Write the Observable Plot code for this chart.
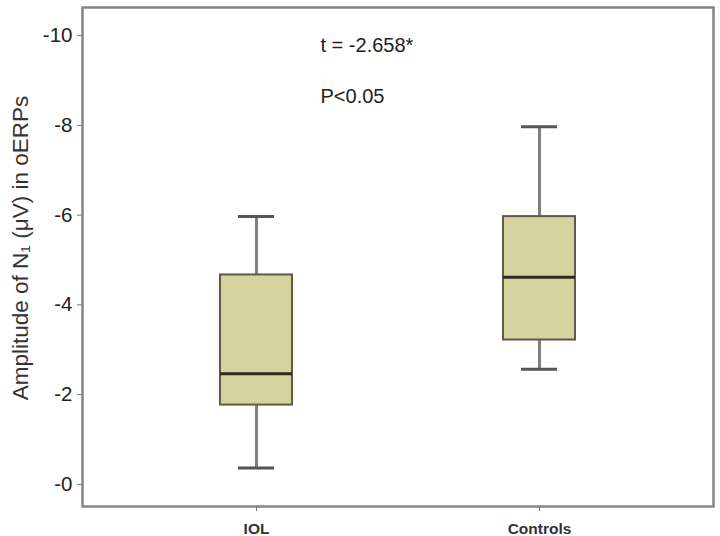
<!DOCTYPE html>
<html>
<head>
<meta charset="utf-8">
<script src="https://cdn.jsdelivr.net/npm/d3@7"></script>
<script src="https://cdn.jsdelivr.net/npm/@observablehq/plot@0.6"></script>
<style>
  html, body { margin: 0; padding: 0; background: #fff; }
  #chart svg { display: block; }
</style>
</head>
<body>
<div id="chart"></div>
<script>
// Groups and box-plot statistics (amplitude in µV, negative values)
const groups = ["IOL", "Controls"];
const whiskerLow  = [-0.3, -2.5];
const quartile1   = [-1.7, -3.15];
const medians     = [-2.4, -4.55];
const quartile3   = [-4.6, -5.9];
const whiskerHigh = [-5.9, -7.9];

const yTickValues = [-10, -8, -6, -4, -2, 0];
const yTickLabels = ["-10", "-8", "-6", "-4", "-2", "-0"];
const yTitle = "Amplitude of N\u2081 (\u03bcV) in oERPs";
const annotationLines = ["t = -2.658*", "P<0.05"];

const data = groups.map((g, i) => ({
  group: g,
  lo: whiskerLow[i],
  q1: quartile1[i],
  med: medians[i],
  q3: quartile3[i],
  hi: whiskerHigh[i]
}));

const font = "'Liberation Sans', Arial, Helvetica, sans-serif";

const chart = Plot.plot({
  width: 720,
  height: 536,
  marginLeft: 82,
  marginRight: 7,
  marginTop: 7,
  marginBottom: 30,
  style: { fontFamily: font, background: "#fff" },
  x: { domain: groups, paddingInner: 0.7456, paddingOuter: 0.4876, axis: null },
  y: { domain: [-10.56, 0.56], reverse: true, axis: null },
  marks: [
    // whiskers
    Plot.ruleX(data, { x: "group", y1: "lo", y2: "q1", stroke: "#808080", strokeWidth: 3 }),
    Plot.ruleX(data, { x: "group", y1: "q3", y2: "hi", stroke: "#808080", strokeWidth: 3 }),
    // whisker caps
    Plot.tickY(data, { x: "group", y: "lo", stroke: "#555", strokeWidth: 3, insetLeft: 18, insetRight: 18 }),
    Plot.tickY(data, { x: "group", y: "hi", stroke: "#555", strokeWidth: 3, insetLeft: 18, insetRight: 18 }),
    // boxes
    Plot.barY(data, { x: "group", y1: "q1", y2: "q3", fill: "#d6d39e", stroke: "#5e5a4a", strokeWidth: 2 }),
    // medians
    Plot.tickY(data, { x: "group", y: "med", stroke: "#2e2a20", strokeWidth: 3 }),
    // frame
    Plot.frame({ stroke: "#858585", strokeWidth: 2.5 }),
    // y axis
    Plot.axisY({
      ticks: yTickValues,
      tickFormat: (d) => yTickLabels[yTickValues.indexOf(d)],
      tickSize: 5,
      tickPadding: 5,
      fontSize: 20.5,
      fill: "#222",
      stroke: "#777",
      dy: 3,
      label: null
    }),
    // x axis
    Plot.axisX({
      tickSize: 5,
      tickPadding: 11,
      fontSize: 15.5,
      fontWeight: "bold",
      fill: "#333",
      stroke: "#777",
      label: null
    }),
    // y-axis title
    Plot.text([yTitle], {
      text: (d) => d,
      frameAnchor: "left",
      rotate: -90,
      dx: -62,
      dy: -9,
      fontSize: 22.5,
      fill: "#333",
      textAnchor: "middle"
    }),
    // annotation
    Plot.text([annotationLines.join("\n")], {
      text: (d) => d,
      frameAnchor: "top-left",
      dx: 238,
      dy: 8,
      textAnchor: "start",
      lineAnchor: "top",
      lineHeight: 2.55,
      fontSize: 20,
      fill: "#222"
    })
  ]
});

document.getElementById("chart").appendChild(chart);
</script>
</body>
</html>
